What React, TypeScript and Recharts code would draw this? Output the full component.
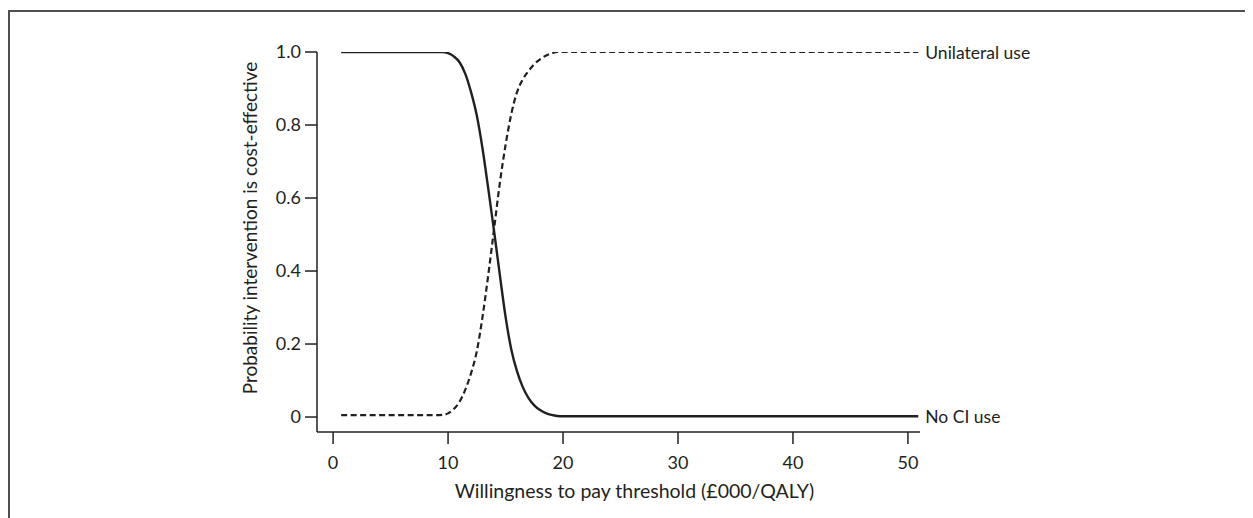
import React from "react";
import { LineChart, Line, XAxis, YAxis, Label, LabelList } from "recharts";

const xs = [0.7, 2, 4, 6, 8, 9, 9.5, 10, 10.5, 11, 11.5, 12, 12.5, 13, 13.5, 14, 14.5, 15, 15.5, 16, 16.5, 17, 17.5, 18, 18.5, 19, 19.5, 20, 25, 30, 35, 40, 45, 50.9];
const noCIUse = [1, 1, 1, 1, 1, 1, 1, 0.997, 0.988, 0.972, 0.94, 0.89, 0.826, 0.735, 0.625, 0.51, 0.39, 0.275, 0.185, 0.125, 0.082, 0.052, 0.032, 0.019, 0.011, 0.006, 0.003, 0.002, 0.002, 0.002, 0.002, 0.002, 0.002, 0.002];
const unilateralUse = [0.005, 0.005, 0.005, 0.005, 0.005, 0.005, 0.006, 0.01, 0.022, 0.042, 0.075, 0.12, 0.18, 0.275, 0.39, 0.515, 0.64, 0.745, 0.83, 0.89, 0.925, 0.948, 0.967, 0.98, 0.99, 0.996, 1, 1, 1, 1, 1, 1, 1, 1];
const xTicks = [0, 10, 20, 30, 40, 50];
const yTicks = [0, 0.2, 0.4, 0.6, 0.8, 1.0];
const seriesNames = { noCI: "No CI use", unilateral: "Unilateral use" };
const xTitle = "Willingness to pay threshold (£000/QALY)";
const yTitle = "Probability intervention is cost-effective";

const data = xs.map((x, i) => ({ x, noCI: noCIUse[i], unilateral: unilateralUse[i] }));

const INK = "#231f20";
const FONT = "Lato, 'Open Sans', sans-serif";

const endLabel = (name: string) => (props: any) => {
  const { x, y, index } = props;
  if (index !== data.length - 1) return null;
  return (
    <text x={x + 7} y={y} dominantBaseline="central" fontSize={17.5} fontFamily={FONT} fill={INK}>
      {name}
    </text>
  );
};

export default function App() {
  return (
    <div style={{ position: "relative", width: 1245, height: 510, background: "#fff" }}>
      <div
        style={{
          position: "absolute",
          top: 2,
          left: 0,
          width: 1245,
          height: 508,
          borderTop: "2px solid #4f4f4f",
          borderLeft: "2px solid #4f4f4f",
          boxSizing: "border-box",
        }}
      />
      <div style={{ position: "absolute", top: 0, left: 0 }}>
        <LineChart width={1245} height={510} data={data} margin={{ top: 44, right: 333, bottom: 26, left: 249 }}>
          <XAxis
            dataKey="x"
            type="number"
            domain={[-1.4, 51.05]}
            ticks={xTicks}
            allowDataOverflow
            height={60}
            tickSize={12}
            tickMargin={12}
            stroke={INK}
            strokeWidth={1.5}
            tick={{ fill: INK, fontSize: 18, fontFamily: FONT }}
          >
            <Label
              content={(p: any) => {
                const vb = p.viewBox;
                return (
                  <text
                    x={vb.x + vb.width / 2 + 16}
                    y={vb.y + 66}
                    textAnchor="middle"
                    fontSize={19.5}
                    fontFamily={FONT}
                    fill={INK}
                  >
                    {xTitle}
                  </text>
                );
              }}
            />
          </XAxis>
          <YAxis
            type="number"
            domain={[-0.041, 1]}
            ticks={yTicks}
            allowDataOverflow
            width={60}
            tickSize={12}
            tickMargin={4}
            stroke={INK}
            strokeWidth={1.5}
            tickFormatter={(v: number) => (v === 0 ? "0" : v.toFixed(1))}
            tick={{ fill: INK, fontSize: 18, fontFamily: FONT }}
          >
            <Label
              content={(p: any) => {
                const vb = p.viewBox;
                const cx = vb.x - 8;
                const cy = vb.y + vb.height / 2 - 14;
                return (
                  <text
                    x={cx}
                    y={cy}
                    transform={`rotate(-90, ${cx}, ${cy})`}
                    textAnchor="middle"
                    dominantBaseline="central"
                    fontSize={19}
                    fontFamily={FONT}
                    fill={INK}
                  >
                    {yTitle}
                  </text>
                );
              }}
            />
          </YAxis>
          <Line
            dataKey="unilateral"
            type="monotone"
            stroke={INK}
            strokeWidth={2.2}
            strokeDasharray="6 3.5"
            dot={false}
            activeDot={false}
            isAnimationActive={false}
          >
            <LabelList dataKey="unilateral" content={endLabel(seriesNames.unilateral)} />
          </Line>
          <Line
            dataKey="noCI"
            type="monotone"
            stroke={INK}
            strokeWidth={2.4}
            dot={false}
            activeDot={false}
            isAnimationActive={false}
          >
            <LabelList dataKey="noCI" content={endLabel(seriesNames.noCI)} />
          </Line>
        </LineChart>
      </div>
    </div>
  );
}
